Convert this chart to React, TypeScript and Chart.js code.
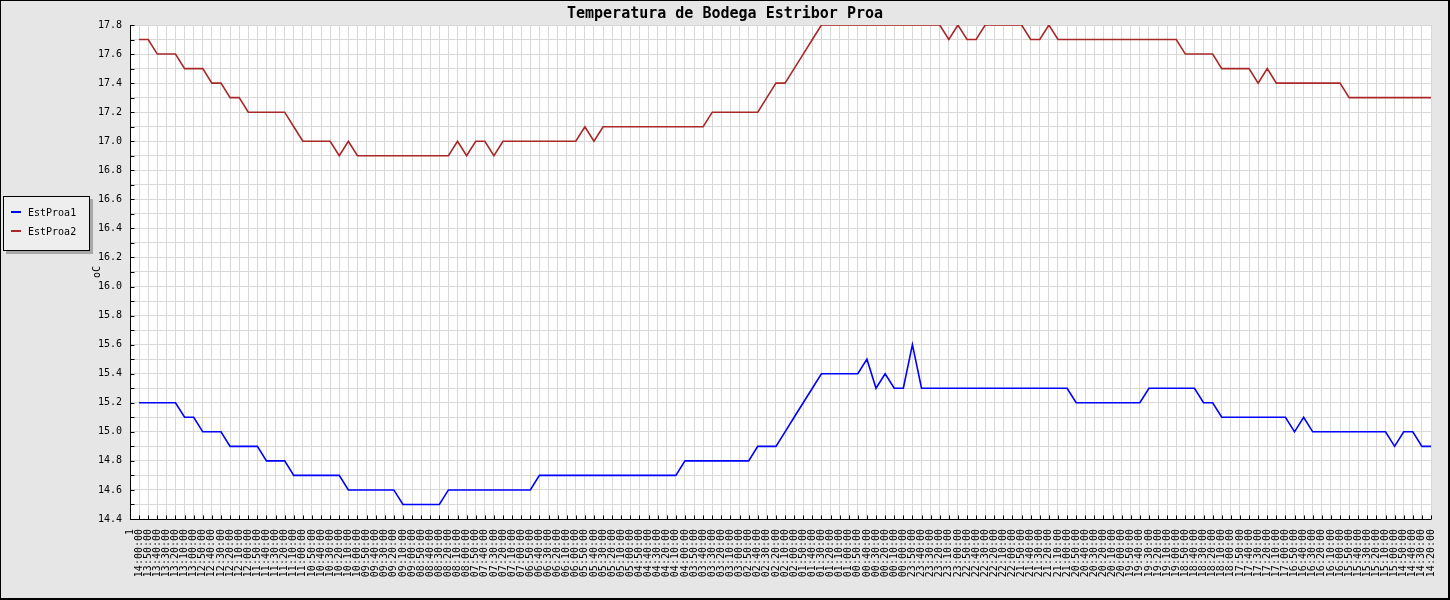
import React, { useEffect, useRef } from "react";
import { Chart, registerables } from "chart.js";

Chart.register(...registerables);

const TITLE = "Temperatura de Bodega Estribor Proa";
const Y_TITLE = "oC";
const SERIES_NAMES = ["EstProa1", "EstProa2"];
const SERIES_COLORS = ["#0000ff", "#a82828"];

const CATEGORIES = (
  "1 14:00:00 " +
  "13:50:00 13:40:00 13:30:00 13:20:00 13:10:00 13:00:00 " +
  "12:50:00 12:40:00 12:30:00 12:20:00 12:10:00 12:00:00 " +
  "11:50:00 11:40:00 11:30:00 11:20:00 11:10:00 11:00:00 " +
  "10:50:00 10:40:00 10:30:00 10:20:00 10:10:00 10:00:00 " +
  "09:50:00 09:40:00 09:30:00 09:20:00 09:10:00 09:00:00 " +
  "08:50:00 08:40:00 08:30:00 08:20:00 08:10:00 08:00:00 " +
  "07:50:00 07:40:00 07:30:00 07:20:00 07:10:00 07:00:00 " +
  "06:50:00 06:40:00 06:30:00 06:20:00 06:10:00 06:00:00 " +
  "05:50:00 05:40:00 05:30:00 05:20:00 05:10:00 05:00:00 " +
  "04:50:00 04:40:00 04:30:00 04:20:00 04:10:00 04:00:00 " +
  "03:50:00 03:40:00 03:30:00 03:20:00 03:10:00 03:00:00 " +
  "02:50:00 02:40:00 02:30:00 02:20:00 02:10:00 02:00:00 " +
  "01:50:00 01:40:00 01:30:00 01:20:00 01:10:00 01:00:00 " +
  "00:50:00 00:40:00 00:30:00 00:20:00 00:10:00 00:00:00 " +
  "23:50:00 23:40:00 23:30:00 23:20:00 23:10:00 23:00:00 " +
  "22:50:00 22:40:00 22:30:00 22:20:00 22:10:00 22:00:00 " +
  "21:50:00 21:40:00 21:30:00 21:20:00 21:10:00 21:00:00 " +
  "20:50:00 20:40:00 20:30:00 20:20:00 20:10:00 20:00:00 " +
  "19:50:00 19:40:00 19:30:00 19:20:00 19:10:00 19:00:00 " +
  "18:50:00 18:40:00 18:30:00 18:20:00 18:10:00 18:00:00 " +
  "17:50:00 17:40:00 17:30:00 17:20:00 17:10:00 17:00:00 " +
  "16:50:00 16:40:00 16:30:00 16:20:00 16:10:00 16:00:00 " +
  "15:50:00 15:40:00 15:30:00 15:20:00 15:10:00 15:00:00 " +
  "14:50:00 14:40:00 14:30:00 14:20:00"
).split(" ");

const EST_PROA1: (number | null)[] = [
  null,
  15.2, 15.2, 15.2, 15.2, 15.2, 15.1, 15.1, 15.0, 15.0, 15.0,
  14.9, 14.9, 14.9, 14.9, 14.8, 14.8, 14.8, 14.7, 14.7, 14.7,
  14.7, 14.7, 14.7, 14.6, 14.6, 14.6, 14.6, 14.6, 14.6, 14.5,
  14.5, 14.5, 14.5, 14.5, 14.6, 14.6, 14.6, 14.6, 14.6, 14.6,
  14.6, 14.6, 14.6, 14.6, 14.7, 14.7, 14.7, 14.7, 14.7, 14.7,
  14.7, 14.7, 14.7, 14.7, 14.7, 14.7, 14.7, 14.7, 14.7, 14.7,
  14.8, 14.8, 14.8, 14.8, 14.8, 14.8, 14.8, 14.8, 14.9, 14.9,
  14.9, 15.0, 15.1, 15.2, 15.3, 15.4, 15.4, 15.4, 15.4, 15.4,
  15.5, 15.3, 15.4, 15.3, 15.3, 15.6, 15.3, 15.3, 15.3, 15.3,
  15.3, 15.3, 15.3, 15.3, 15.3, 15.3, 15.3, 15.3, 15.3, 15.3,
  15.3, 15.3, 15.3, 15.2, 15.2, 15.2, 15.2, 15.2, 15.2, 15.2,
  15.2, 15.3, 15.3, 15.3, 15.3, 15.3, 15.3, 15.2, 15.2, 15.1,
  15.1, 15.1, 15.1, 15.1, 15.1, 15.1, 15.1, 15.0, 15.1, 15.0,
  15.0, 15.0, 15.0, 15.0, 15.0, 15.0, 15.0, 15.0, 14.9, 15.0,
  15.0, 14.9, 14.9,
];

const EST_PROA2: (number | null)[] = [
  null,
  17.7, 17.7, 17.6, 17.6, 17.6, 17.5, 17.5, 17.5, 17.4, 17.4,
  17.3, 17.3, 17.2, 17.2, 17.2, 17.2, 17.2, 17.1, 17.0, 17.0,
  17.0, 17.0, 16.9, 17.0, 16.9, 16.9, 16.9, 16.9, 16.9, 16.9,
  16.9, 16.9, 16.9, 16.9, 16.9, 17.0, 16.9, 17.0, 17.0, 16.9,
  17.0, 17.0, 17.0, 17.0, 17.0, 17.0, 17.0, 17.0, 17.0, 17.1,
  17.0, 17.1, 17.1, 17.1, 17.1, 17.1, 17.1, 17.1, 17.1, 17.1,
  17.1, 17.1, 17.1, 17.2, 17.2, 17.2, 17.2, 17.2, 17.2, 17.3,
  17.4, 17.4, 17.5, 17.6, 17.7, 17.8, 17.8, 17.8, 17.8, 17.8,
  17.8, 17.8, 17.8, 17.8, 17.8, 17.8, 17.8, 17.8, 17.8, 17.7,
  17.8, 17.7, 17.7, 17.8, 17.8, 17.8, 17.8, 17.8, 17.7, 17.7,
  17.8, 17.7, 17.7, 17.7, 17.7, 17.7, 17.7, 17.7, 17.7, 17.7,
  17.7, 17.7, 17.7, 17.7, 17.7, 17.6, 17.6, 17.6, 17.6, 17.5,
  17.5, 17.5, 17.5, 17.4, 17.5, 17.4, 17.4, 17.4, 17.4, 17.4,
  17.4, 17.4, 17.4, 17.3, 17.3, 17.3, 17.3, 17.3, 17.3, 17.3,
  17.3, 17.3, 17.3,
];

const Y_MIN = 14.4;
const Y_MAX = 17.8;
const Y_STEP = 0.1;

const FONT = '"DejaVu Sans Mono", "Liberation Mono", monospace';
const BG = "#e6e6e6";
const GRID = "#d8d8d8";

export default function App() {
  const canvasRef = useRef<HTMLCanvasElement>(null);

  useEffect(() => {
    const prevMargin = document.body.style.margin;
    document.body.style.margin = "0";
    const canvas = canvasRef.current;
    if (!canvas) return;

    const plotBg = {
      id: "plotBg",
      beforeDraw(chart: any) {
        const { ctx, chartArea: a } = chart;
        ctx.save();
        ctx.fillStyle = "#ffffff";
        ctx.fillRect(a.left, a.top, a.right - a.left, a.bottom - a.top);
        ctx.restore();
      },
    };

    const decorations = {
      id: "decorations",
      afterDraw(chart: any) {
        const { ctx, chartArea: a, scales } = chart;
        const xs = scales.x;
        const ys = scales.y;
        ctx.save();
        ctx.strokeStyle = "#000000";
        ctx.lineWidth = 1;
        ctx.beginPath();
        const left = Math.round(a.left) + 0.5;
        const bottom = Math.round(a.bottom) + 0.5;
        ctx.moveTo(left, Math.round(a.top));
        ctx.lineTo(left, bottom);
        ctx.lineTo(Math.round(a.right), bottom);
        // inward ticks on x axis
        for (let i = 0; i < CATEGORIES.length; i++) {
          const px = Math.round(xs.getPixelForTick(i)) + 0.5;
          ctx.moveTo(px, bottom);
          ctx.lineTo(px, bottom - 4);
        }
        // inward ticks on y axis
        ys.ticks.forEach((t: any, i: number) => {
          const py = Math.round(ys.getPixelForTick(i)) + 0.5;
          ctx.moveTo(left, py);
          ctx.lineTo(left + 4, py);
        });
        ctx.stroke();

        // title
        ctx.fillStyle = "#000000";
        ctx.font = `bold 15px ${FONT}`;
        ctx.textAlign = "center";
        ctx.textBaseline = "middle";
        ctx.fillText(TITLE, 725, 14);

        // y axis title
        ctx.font = `10px ${FONT}`;
        ctx.translate(97, (a.top + a.bottom) / 2);
        ctx.rotate(-Math.PI / 2);
        ctx.textAlign = "center";
        ctx.textBaseline = "middle";
        ctx.fillText(Y_TITLE, 0, 0);
        ctx.restore();
      },
    };

    const chart = new Chart(canvas, {
      type: "line",
      data: {
        labels: CATEGORIES,
        datasets: [
          {
            label: SERIES_NAMES[0],
            data: EST_PROA1,
            borderColor: SERIES_COLORS[0],
            backgroundColor: SERIES_COLORS[0],
            borderWidth: 1.6,
            pointRadius: 0,
            tension: 0,
            fill: false,
          },
          {
            label: SERIES_NAMES[1],
            data: EST_PROA2,
            borderColor: SERIES_COLORS[1],
            backgroundColor: SERIES_COLORS[1],
            borderWidth: 1.6,
            pointRadius: 0,
            tension: 0,
            fill: false,
          },
        ],
      },
      options: {
        responsive: false,
        animation: false,
        devicePixelRatio: 1,
        layout: { padding: { top: 25, right: 19, left: 0, bottom: 0 } },
        plugins: {
          legend: { display: false },
          title: { display: false },
          tooltip: { enabled: false },
        },
        scales: {
          x: {
            type: "category",
            offset: false,
            grid: { color: GRID, lineWidth: 1, drawTicks: false },
            border: { display: false },
            ticks: {
              autoSkip: false,
              maxRotation: 90,
              minRotation: 90,
              padding: 10,
              color: "#000000",
              font: { family: FONT, size: 10 },
            },
            afterFit(s: any) {
              s.height = 81;
              s.paddingLeft = 0;
              s.paddingRight = 0;
            },
          },
          y: {
            type: "linear",
            min: Y_MIN,
            max: Y_MAX,
            grid: { color: GRID, lineWidth: 1, drawTicks: false },
            border: { display: false },
            ticks: {
              stepSize: Y_STEP,
              autoSkip: false,
              padding: 8,
              color: "#000000",
              font: { family: FONT, size: 10 },
              callback: (v: any) => {
                const n = Math.round(Number(v) * 10);
                return n % 2 === 0 ? (n / 10).toFixed(1) : "";
              },
            },
            afterFit(s: any) {
              s.width = 130;
            },
          },
        },
      },
      plugins: [plotBg, decorations],
    } as any);

    return () => {
      chart.destroy();
      document.body.style.margin = prevMargin;
    };
  }, []);

  const legendItem = (i: number, top: number) => (
    <div key={i} style={{ position: "absolute", left: 0, top, height: 12, width: "100%" }}>
      <div
        style={{
          position: "absolute",
          left: 7,
          top: 4,
          width: 10,
          height: 2,
          background: SERIES_COLORS[i],
        }}
      />
      <div
        style={{
          position: "absolute",
          left: 24,
          top: 0,
          fontFamily: FONT,
          fontSize: 10,
          lineHeight: "12px",
          color: "#000",
          whiteSpace: "nowrap",
        }}
      >
        {SERIES_NAMES[i]}
      </div>
    </div>
  );

  return (
    <div
      style={{
        position: "absolute",
        left: 0,
        top: 0,
        width: 1450,
        height: 600,
        background: BG,
        overflow: "hidden",
      }}
    >
      <canvas ref={canvasRef} width={1450} height={600} style={{ display: "block", width: 1450, height: 600 }} />
      <div
        style={{
          position: "absolute",
          left: 3,
          top: 196,
          width: 87,
          height: 55,
          boxSizing: "border-box",
          border: "1px solid #000",
          background: "#eeeeee",
          boxShadow: "3px 3px 0 #a8a8a8",
        }}
      >
        {legendItem(0, 10)}
        {legendItem(1, 29)}
      </div>
      <div
        style={{
          position: "absolute",
          left: 0,
          top: 0,
          width: 1450,
          height: 600,
          boxSizing: "border-box",
          borderTop: "1px solid #000",
          borderLeft: "1px solid #000",
          borderRight: "2px solid #000",
          borderBottom: "2px solid #000",
          pointerEvents: "none",
        }}
      />
    </div>
  );
}
